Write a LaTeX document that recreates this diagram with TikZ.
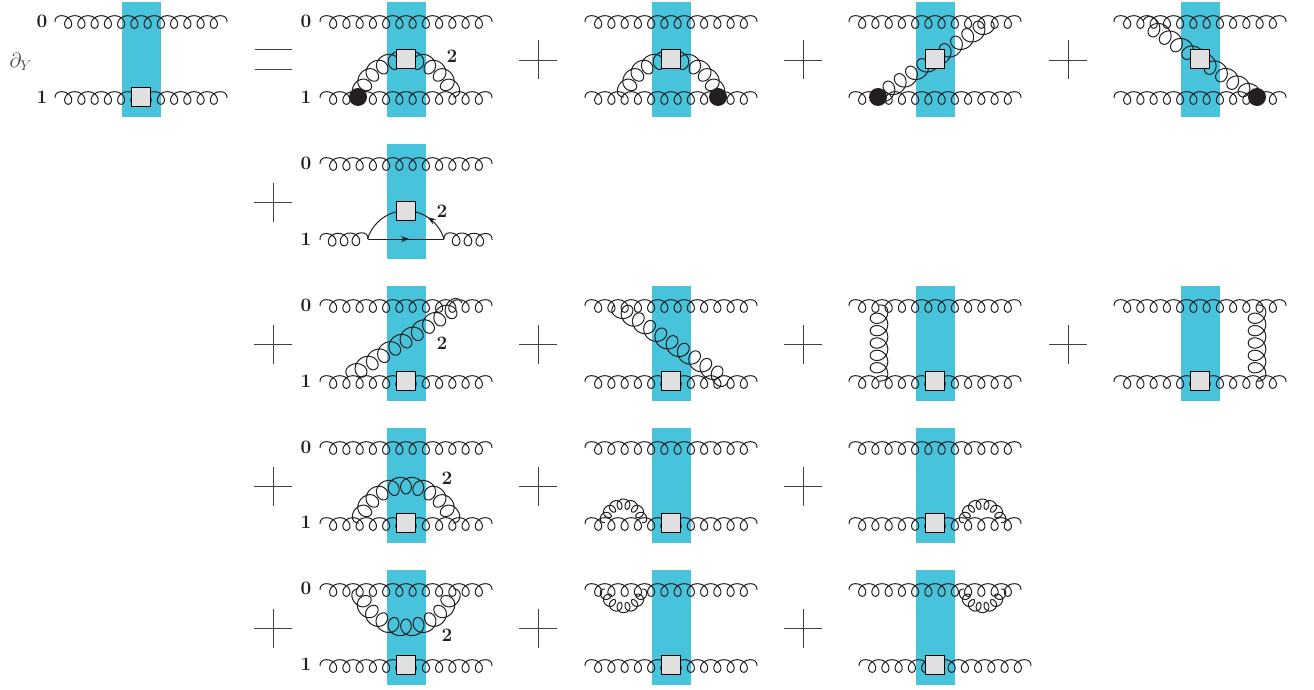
\documentclass[tikz,border=0pt]{standalone}
\usepackage{amsmath}
\usetikzlibrary{decorations.markings,arrows.meta}
\definecolor{bandblue}{RGB}{71,195,220}
\definecolor{squaregray}{RGB}{224,224,224}
\definecolor{inkblack}{RGB}{35,31,32}
\tikzset{
  gluonpen/.style={draw=inkblack, line width=1pt, line join=round},
  sq/.style={draw=black, fill=squaregray, line width=1pt, minimum size=18.5pt, inner sep=0pt},
  dot/.style={circle, fill=inkblack, minimum size=18pt, inner sep=0pt},
  lab/.style={text=inkblack, font=\bfseries\fontsize{19}{21}\selectfont, inner sep=0pt},
  op/.style={draw=inkblack!85, line width=0.7pt},
  quark/.style={draw=inkblack, line width=1pt},
  midarrow/.style={postaction={decorate, decoration={markings, mark=at position #1 with {\arrow{Stealth[length=8pt,width=6pt]}}}}}
}
% coil along the curve: \t runs in degrees up to \tmax
\newcommand{\gu}{((\glen-\gb)*(\t/\tmax)-\gb*min(1,0.5+min(\t,\tmax-\t)/180)*cos(\t)+\gb/2)}
\newcommand{\gv}{(-\gA*sin(\t))}
\newcommand{\coilsetup}[3]{%
  \pgfmathsetmacro{\tmax}{180*(2*#1+1)}
  \pgfmathtruncatemacro{\gsamples}{16*(2*#1+1)+1}
  \def\gA{#2}\def\gb{#3}}
% \gluon{from}{to}{loops}{amplitude}{width}
\newcommand{\gluon}[5]{%
  \pgfpointdiff{\pgfpointanchor{#1}{center}}{\pgfpointanchor{#2}{center}}
  \pgfgetlastxy{\gdx}{\gdy}
  \pgfmathsetmacro{\glen}{veclen(\gdx,\gdy)}
  \pgfmathsetmacro{\gang}{atan2(\gdy,\gdx)}
  \coilsetup{#3}{#4}{#5}
  \draw[gluonpen, shift={(#1)}, rotate=\gang]
    plot[smooth, variable=\t, domain=0:\tmax, samples=\gsamples] ({\gu},{\gv});}
% \gluonarc{centre}{radius}{start}{end}{loops}{amplitude}{width}
\newcommand{\gluonarc}[7]{%
  \pgfmathsetmacro{\glen}{#2*(#4-#3)/180*pi}
  \coilsetup{#5}{#6}{#7}
  \draw[gluonpen, shift={(#1)}]
    plot[smooth, variable=\t, domain=0:\tmax, samples=\gsamples]
    ({(#2-\gv)*cos(#3+(#4-#3)*(\gu/\glen))},{(#2-\gv)*sin(#3+(#4-#3)*(\gu/\glen))});}
% band and top gluon of one panel
\newcommand{\bandtop}{%
  \fill[bandblue] (-19.5,0) rectangle (19.5,115);
  \coordinate (tl) at (-86,20);
  \coordinate (tr) at (86,20);
  \gluon{tl}{tr}{12}{6.3}{6.5}}
\newcommand{\botline}{%
  \coordinate (bl) at (-86,96);
  \coordinate (br) at (86,96);
  \gluon{bl}{br}{12}{6.3}{6.5}}
\newcommand{\plusop}[2]{%
  \draw[op] (#1-19,#2) -- (#1+19,#2);
  \draw[op] (#1,#2-19.5) -- (#1,#2+19.5);}
\begin{document}
\begin{tikzpicture}[x=1pt, y=-1pt]
  \useasboundingbox (0,0) rectangle (1314,690);
  % first line
  \begin{scope}[shift={(141,2)}]
    \bandtop \botline
    \node[sq] (s0) at (0,95) {};
    \node[lab] (n00) at (-99,19) {0};
    \node[lab] (n01) at (-99,95) {1};
  \end{scope}
  \node[text=inkblack!85, font=\fontsize{20}{22}\selectfont] (dy) at (21,62) {$\partial_Y$};
  \draw[op] (255,49) -- (292,49);
  \draw[op] (255,69) -- (292,69);
  \foreach \px/\py in {538/60,803/60,1068/60,273/202,273/344,538/344,803/344,1068/344,273/486,538/486,803/486,273/628,538/628,803/628} {
    \plusop{\px}{\py}
  }
  \begin{scope}[shift={(406,2)}]
    \bandtop \botline
    \coordinate (c1) at (0,106);
    \gluonarc{c1}{48.5}{193}{347}{9}{8.5}{8.5}
    \node[sq] (s1) at (0,57) {};
    \node[dot] (d1) at (-48,95) {};
    \node[lab] (n10) at (-100,19) {0};
    \node[lab] (n11) at (-100,95) {1};
    \node[lab] (t1) at (46,54) {2};
  \end{scope}
  \begin{scope}[shift={(671,2)}]
    \bandtop \botline
    \coordinate (c2) at (0,106);
    \gluonarc{c2}{48.5}{193}{347}{9}{8.5}{8.5}
    \node[sq] (s2) at (0,57) {};
    \node[dot] (d2) at (47,95) {};
  \end{scope}
  \begin{scope}[shift={(935,2)}]
    \bandtop \botline
    \coordinate (a3) at (-57,95);
    \coordinate (b3) at (57,19);
    \gluon{b3}{a3}{9}{8.5}{8.5}
    \node[sq] (s3) at (0,57) {};
    \node[dot] (d3) at (a3) {};
  \end{scope}
  \begin{scope}[shift={(1200,2)}]
    \bandtop \botline
    \coordinate (a4) at (57,95);
    \coordinate (b4) at (-57,19);
    \gluon{b4}{a4}{9}{8.5}{8.5}
    \node[sq] (s4) at (0,57) {};
    \node[dot] (d4) at (a4) {};
  \end{scope}
  % second line
  \begin{scope}[shift={(406,144)}]
    \bandtop
    \coordinate (bl) at (-86,96);
    \coordinate (a5) at (-38,95);
    \coordinate (b5) at (38,95);
    \coordinate (br) at (86,96);
    \gluon{bl}{a5}{3}{6.3}{6.5}
    \gluon{b5}{br}{3}{6.3}{6.5}
    \draw[quark, midarrow=0.54] (a5) -- (b5);
    \draw[quark, midarrow=0.27] (b5) arc[start angle=-17, end angle=-163, radius=40];
    \node[sq] (s5) at (0,67) {};
    \node[lab] (n50) at (-100,19) {0};
    \node[lab] (n51) at (-100,95) {1};
    \node[lab] (t5) at (36,67) {2};
  \end{scope}
  % third line
  \begin{scope}[shift={(406,286)}]
    \bandtop \botline
    \coordinate (a6) at (-58,91);
    \coordinate (b6) at (56,17);
    \gluon{a6}{b6}{9}{8.5}{8.5}
    \node[sq] (s6) at (0,95) {};
    \node[lab] (n60) at (-100,19) {0};
    \node[lab] (n61) at (-100,95) {1};
    \node[lab] (t6) at (36,57) {2};
  \end{scope}
  \begin{scope}[shift={(671,286)}]
    \bandtop \botline
    \coordinate (a7) at (57,96);
    \coordinate (b7) at (-57,19);
    \gluon{a7}{b7}{9}{8.5}{8.5}
    \node[sq] (s7) at (0,95) {};
  \end{scope}
  \begin{scope}[shift={(935,286)}]
    \bandtop \botline
    \coordinate (a8) at (-56,19);
    \coordinate (b8) at (-56,95);
    \gluon{a8}{b8}{5}{8.8}{8}
    \node[sq] (s8) at (0,95) {};
  \end{scope}
  \begin{scope}[shift={(1200,286)}]
    \bandtop \botline
    \coordinate (a9) at (57,19);
    \coordinate (b9) at (57,95);
    \gluon{a9}{b9}{5}{8.8}{8}
    \node[sq] (s9) at (0,95) {};
  \end{scope}
  % fourth line
  \begin{scope}[shift={(406,428)}]
    \bandtop \botline
    \coordinate (c10) at (0,106);
    \gluonarc{c10}{48.5}{193}{347}{9}{8.5}{8.5}
    \node[sq] (s10) at (0,95) {};
    \node[lab] (n100) at (-100,19) {0};
    \node[lab] (n101) at (-100,94) {1};
    \node[lab] (t10) at (41,50) {2};
  \end{scope}
  \begin{scope}[shift={(671,428)}]
    \bandtop \botline
    \coordinate (c11) at (-47.5,94.7);
    \gluonarc{c11}{18.7}{180}{360}{6}{5}{4.4}
    \node[sq] (s11) at (0,95) {};
  \end{scope}
  \begin{scope}[shift={(935,428)}]
    \bandtop \botline
    \coordinate (c12) at (47.5,94.7);
    \gluonarc{c12}{18.7}{180}{360}{6}{5}{4.4}
    \node[sq] (s12) at (0,95) {};
  \end{scope}
  % last line
  \begin{scope}[shift={(406,570)}]
    \bandtop \botline
    \coordinate (c13) at (0,9);
    \gluonarc{c13}{48.5}{11.5}{168.5}{9}{8.5}{8.5}
    \node[sq] (s13) at (0,95) {};
    \node[lab] (n130) at (-100,18) {0};
    \node[lab] (n131) at (-100,94) {1};
    \node[lab] (t13) at (41,65) {2};
  \end{scope}
  \begin{scope}[shift={(671,570)}]
    \bandtop \botline
    \coordinate (c14) at (-47.5,19);
    \gluonarc{c14}{18.7}{0}{180}{6}{5}{4.4}
    \node[sq] (s14) at (0,95) {};
  \end{scope}
  \begin{scope}[shift={(935,570)}]
    \bandtop
    \coordinate (bl) at (-76,96);
    \coordinate (br) at (96,96);
    \gluon{bl}{br}{12}{6.3}{6.5}
    \coordinate (c15) at (47.5,19);
    \gluonarc{c15}{18.7}{0}{180}{6}{5}{4.4}
    \node[sq] (s15) at (0,95) {};
  \end{scope}
\end{tikzpicture}
\end{document}
